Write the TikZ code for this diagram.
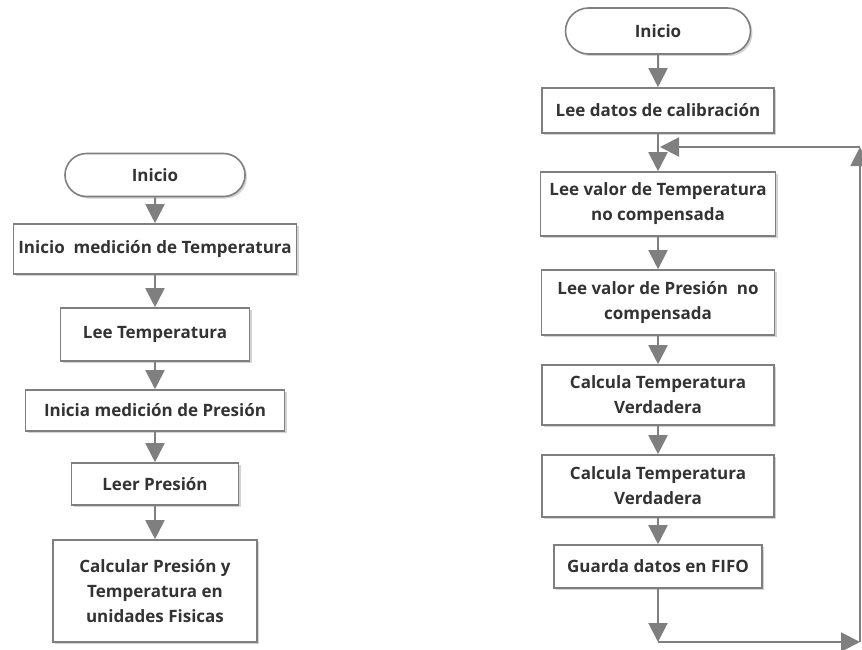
\documentclass[tikz,border=0pt]{standalone}
\usepackage{fontspec}
\setmainfont{Open Sans}
\usetikzlibrary{arrows.meta,shapes.misc,shadows}

\definecolor{gristexto}{HTML}{333333}
\definecolor{grisborde}{HTML}{7F7F7F}

\begin{document}
\begin{tikzpicture}[
  x=1pt, y=-1pt,
  caja/.style={rectangle, draw=grisborde, line width=1.6pt, fill=white,
    text=gristexto, font=\fontsize{17}{25}\selectfont\bfseries, align=center,
    inner sep=0pt, drop shadow={opacity=0.35, shadow xshift=2pt, shadow yshift=-2pt}},
  terminal/.style={caja, rounded rectangle},
  flecha/.style={draw=grisborde, line width=2pt, -{Triangle[length=19pt,width=19pt]}}
]
  \useasboundingbox (0,0) rectangle (862,650);

  % diagrama izquierdo
  \node[terminal, minimum width=180pt, minimum height=43pt] (ini1) at (155,175) {Inicio};
  \node[caja, minimum width=283pt, minimum height=50pt] (b1) at (155,249) {Inicio\ \ medición de Temperatura};
  \node[caja, minimum width=189pt, minimum height=53pt] (b2) at (155,334.5) {Lee Temperatura};
  \node[caja, minimum width=259pt, minimum height=41pt] (b3) at (155,410.5) {Inicia medición de Presión};
  \node[caja, minimum width=167pt, minimum height=42pt] (b4) at (155,484) {Leer Presión};
  \node[caja, minimum width=204pt, minimum height=102pt] (b5) at (155,591) {Calcular Presión y\\Temperatura en\\unidades Fisicas};

  \draw[flecha] (ini1) -- (b1); \draw[flecha] (b1) -- (b2); \draw[flecha] (b2) -- (b3);
  \draw[flecha] (b3) -- (b4); \draw[flecha] (b4) -- (b5);

  % diagrama derecho
  \node[terminal, minimum width=185pt, minimum height=46pt] (ini2) at (658,31) {Inicio};
  \node[caja, minimum width=232pt, minimum height=45pt] (r1) at (658,110.5) {Lee datos de calibración};
  \node[caja, minimum width=235pt, minimum height=64pt] (r2) at (658,204) {Lee valor de Temperatura\\no compensada};
  \node[caja, minimum width=233pt, minimum height=65pt] (r3) at (658,302.5) {Lee valor de Presión\ \ no\\compensada};
  \node[caja, minimum width=232pt, minimum height=60pt] (r4) at (658,395) {Calcula Temperatura\\Verdadera};
  \node[caja, minimum width=232pt, minimum height=62pt] (r5) at (658,486) {Calcula Temperatura\\Verdadera};
  \node[caja, minimum width=208pt, minimum height=43pt] (r6) at (658,566.5) {Guarda datos en FIFO};

  \draw[flecha] (ini2) -- (r1); \draw[flecha] (r1) -- (r2); \draw[flecha] (r2) -- (r3);
  \draw[flecha] (r3) -- (r4); \draw[flecha] (r4) -- (r5); \draw[flecha] (r5) -- (r6);

  % lazo de retorno
  \coordinate (c1) at (658,642);
  \coordinate (c2) at (860,642);
  \coordinate (c3) at (860,147);
  \coordinate (c4) at (660,147);
  \draw[flecha] (r6) -- (c1); \draw[flecha] (c1) -- (c2);
  \draw[flecha] (c2) -- (c3); \draw[flecha] (c3) -- (c4);
\end{tikzpicture}
\end{document}
